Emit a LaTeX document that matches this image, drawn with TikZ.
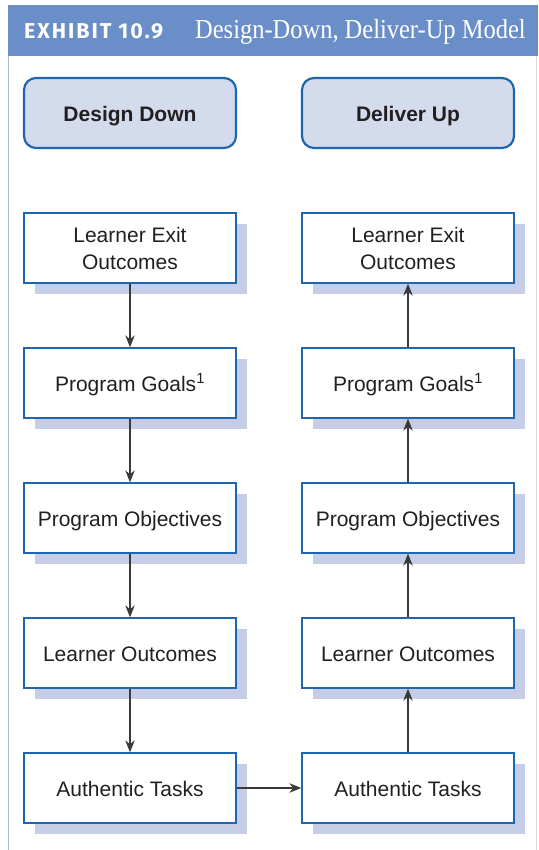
\documentclass[tikz,border=0pt]{standalone}
\usepackage{fontspec}
\setmainfont{Liberation Sans}
\newfontfamily\hdserif[FakeStretch=0.89]{Liberation Serif}
\newfontfamily\hdsans[LetterSpace=9]{Fira Sans}
\usetikzlibrary{arrows.meta}
\definecolor{hdblue}{HTML}{6A8EC7}
\definecolor{boxfill}{HTML}{D3DBEC}
\definecolor{shadowc}{HTML}{C5CEE6}
\definecolor{edgeblue}{HTML}{1F66B0}
\definecolor{txt}{HTML}{231F20}
\definecolor{arrowc}{HTML}{3A3A3A}
\definecolor{leftline}{HTML}{A9BCE0}
\begin{document}
\begin{tikzpicture}[x=1pt,y=-1pt,
  stepbox/.style={draw=edgeblue,line width=1.3pt,fill=white,minimum width=212pt,minimum height=70pt,
    inner sep=0pt,align=center,font=\fontsize{21}{27}\selectfont,text=txt},
  oneline/.style={text height=17pt,text depth=0pt},
  headbox/.style={draw=edgeblue,line width=2.2pt,fill=boxfill,rounded corners=12pt,minimum width=212pt,
    minimum height=70pt,inner sep=0pt,text height=17pt,text depth=0pt,
    font=\fontsize{21}{26}\selectfont\bfseries,text=txt},
  shade/.style={fill=shadowc,draw=none},
  arr/.style={draw=arrowc,line width=1.3pt,-{Stealth[length=12pt,width=9.5pt]}}]
\useasboundingbox (0,0) rectangle (538,850);
\fill[white] (0,0) rectangle (538,850);
\fill[hdblue] (8,5) rectangle (538,56);
\draw[leftline,line width=1.6pt] (8.5,56) -- (8.5,850);
\draw[black!15,line width=0.8pt] (536,56) -- (536,850);
\node[anchor=base west,text=white,inner sep=0pt,font=\hdsans\bfseries\fontsize{21.5}{24}\selectfont] (ex) at (24,38.5) {EXHIBIT 10.9};
\node[anchor=base west,text=white,inner sep=0pt,font=\hdserif\fontsize{27.5}{30}\selectfont] (ttl) at (195,39) {Design-Down, Deliver-Up Model};
\node[headbox] (dd) at (130,113) {Design Down};
\node[headbox] (du) at (408,113) {Deliver Up};
% shadows
\foreach \y in {248,383,518,653,788}{
  \fill[shade] (130+11-106,\y+11-35) rectangle (130+11+106,\y+11+35);
  \fill[shade] (408+11-106,\y+11-35) rectangle (408+11+106,\y+11+35);
}
\node[stepbox] (l1) at (130,248) {Learner Exit\\Outcomes};
\node[stepbox,oneline] (l2) at (130,383) {Program Goals\textsuperscript{1}};
\node[stepbox,oneline] (l3) at (130,518) {Program Objectives};
\node[stepbox,oneline] (l4) at (130,653) {Learner Outcomes};
\node[stepbox,oneline] (l5) at (130,788) {Authentic Tasks};
\node[stepbox] (r1) at (408,248) {Learner Exit\\Outcomes};
\node[stepbox,oneline] (r2) at (408,383) {Program Goals\textsuperscript{1}};
\node[stepbox,oneline] (r3) at (408,518) {Program Objectives};
\node[stepbox,oneline] (r4) at (408,653) {Learner Outcomes};
\node[stepbox,oneline] (r5) at (408,788) {Authentic Tasks};
\draw[arr] (l1) -- (l2);
\draw[arr] (l2) -- (l3);
\draw[arr] (l3) -- (l4);
\draw[arr] (l4) -- (l5);
\draw[arr] (l5) -- (r5);
\draw[arr] (r5) -- (r4);
\draw[arr] (r4) -- (r3);
\draw[arr] (r3) -- (r2);
\draw[arr] (r2) -- (r1);
\end{tikzpicture}
\end{document}
